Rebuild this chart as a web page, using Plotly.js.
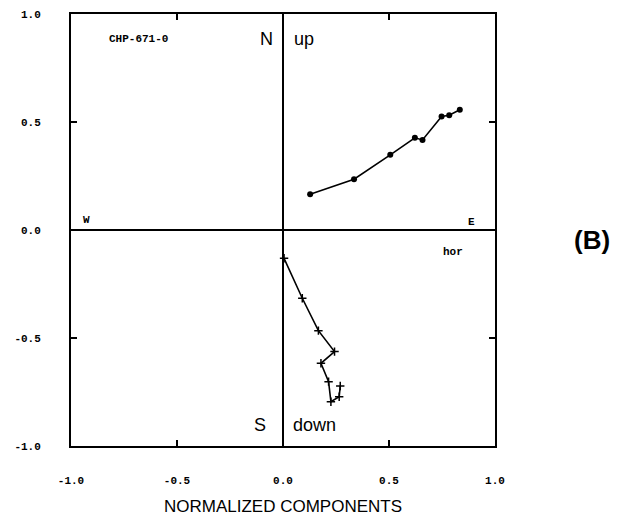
<!DOCTYPE html>
<html>
<head>
<meta charset="utf-8">
<script src="https://cdn.plot.ly/plotly-3.0.1.min.js"></script>
<style>html,body{margin:0;padding:0;background:#fff;}#chart{width:626px;height:525px;}</style>
</head>
<body>
<div id="chart"></div>
<script>
// Vertical projection (up / down vs E) - filled circles
const upX = [0.128, 0.335, 0.506, 0.622, 0.658, 0.748, 0.784, 0.834];
const upY = [0.165, 0.235, 0.348, 0.427, 0.417, 0.526, 0.531, 0.557];
// Horizontal projection (N / S vs E) - crosses
const horX = [0.005, 0.091, 0.167, 0.243, 0.179, 0.215, 0.226, 0.265, 0.270];
const horY = [-0.131, -0.316, -0.466, -0.563, -0.617, -0.702, -0.795, -0.772, -0.722];
const tickVals = [-1, -0.5, 0, 0.5, 1];
const tickText = ['-1.0', '-0.5', '0.0', '0.5', '1.0'];
const sampleLabel = 'CHP-671-0';
const xTitle = 'NORMALIZED COMPONENTS';

const monoBold = {family: '"Liberation Mono", "DejaVu Sans Mono", monospace', size: 11, color: '#000', weight: 'bold'};
const sans = {family: '"Liberation Sans", Arial, sans-serif', size: 18, color: '#000'};

const traces = [
  {x: upX, y: upY, mode: 'lines+markers', type: 'scatter',
   line: {color: '#000', width: 1.6},
   marker: {symbol: 'circle', size: 6, color: '#000'}},
  {x: horX, y: horY, mode: 'lines+markers', type: 'scatter',
   line: {color: '#000', width: 1.6},
   marker: {symbol: 'cross-thin', size: 6, color: '#000', line: {color: '#000', width: 1.5}}}
];

const axisCommon = {
  range: [-1, 1], tickmode: 'array', tickvals: tickVals, ticktext: tickText,
  showgrid: false, zeroline: true, zerolinecolor: '#000', zerolinewidth: 1.6,
  showline: true, linecolor: '#000', linewidth: 2, mirror: 'ticks',
  ticks: 'inside', ticklen: 6, tickwidth: 1.5, tickcolor: '#000',
  tickfont: monoBold, fixedrange: true
};

const annFont = {family: monoBold.family, size: 11, color: '#000', weight: 'bold'};
const layout = {
  width: 626, height: 525,
  margin: {l: 71, r: 131, t: 14, b: 79},
  paper_bgcolor: '#fff', plot_bgcolor: '#fff',
  showlegend: false,
  xaxis: Object.assign({}, axisCommon, {ticklabelstandoff: 23,
    title: {text: xTitle, font: {family: '"Liberation Sans", Arial, sans-serif', size: 17, color: '#000'}, standoff: 14}}),
  yaxis: Object.assign({}, axisCommon, {ticklabelstandoff: 26}),
  annotations: [
    {x: -0.68, y: 0.885, text: sampleLabel, showarrow: false, font: annFont},
    {x: -0.08, y: 0.885, text: 'N', showarrow: false, font: sans},
    {x: 0.10, y: 0.885, text: 'up', showarrow: false, font: sans},
    {x: -0.925, y: 0.045, text: 'W', showarrow: false, font: annFont},
    {x: 0.89, y: 0.035, text: 'E', showarrow: false, font: annFont},
    {x: 0.80, y: -0.10, text: 'hor', showarrow: false, font: annFont},
    {x: -0.11, y: -0.905, text: 'S', showarrow: false, font: sans},
    {x: 0.15, y: -0.905, text: 'down', showarrow: false, font: sans},
    {xref: 'paper', yref: 'paper', x: 1.228, y: 0.477, xanchor: 'center', yanchor: 'middle',
     text: '(B)', showarrow: false,
     font: {family: '"Liberation Sans", Arial, sans-serif', size: 26, color: '#000', weight: 'bold'}}
  ]
};

Plotly.newPlot('chart', traces, layout, {displayModeBar: false, staticPlot: true});
</script>
</body>
</html>
